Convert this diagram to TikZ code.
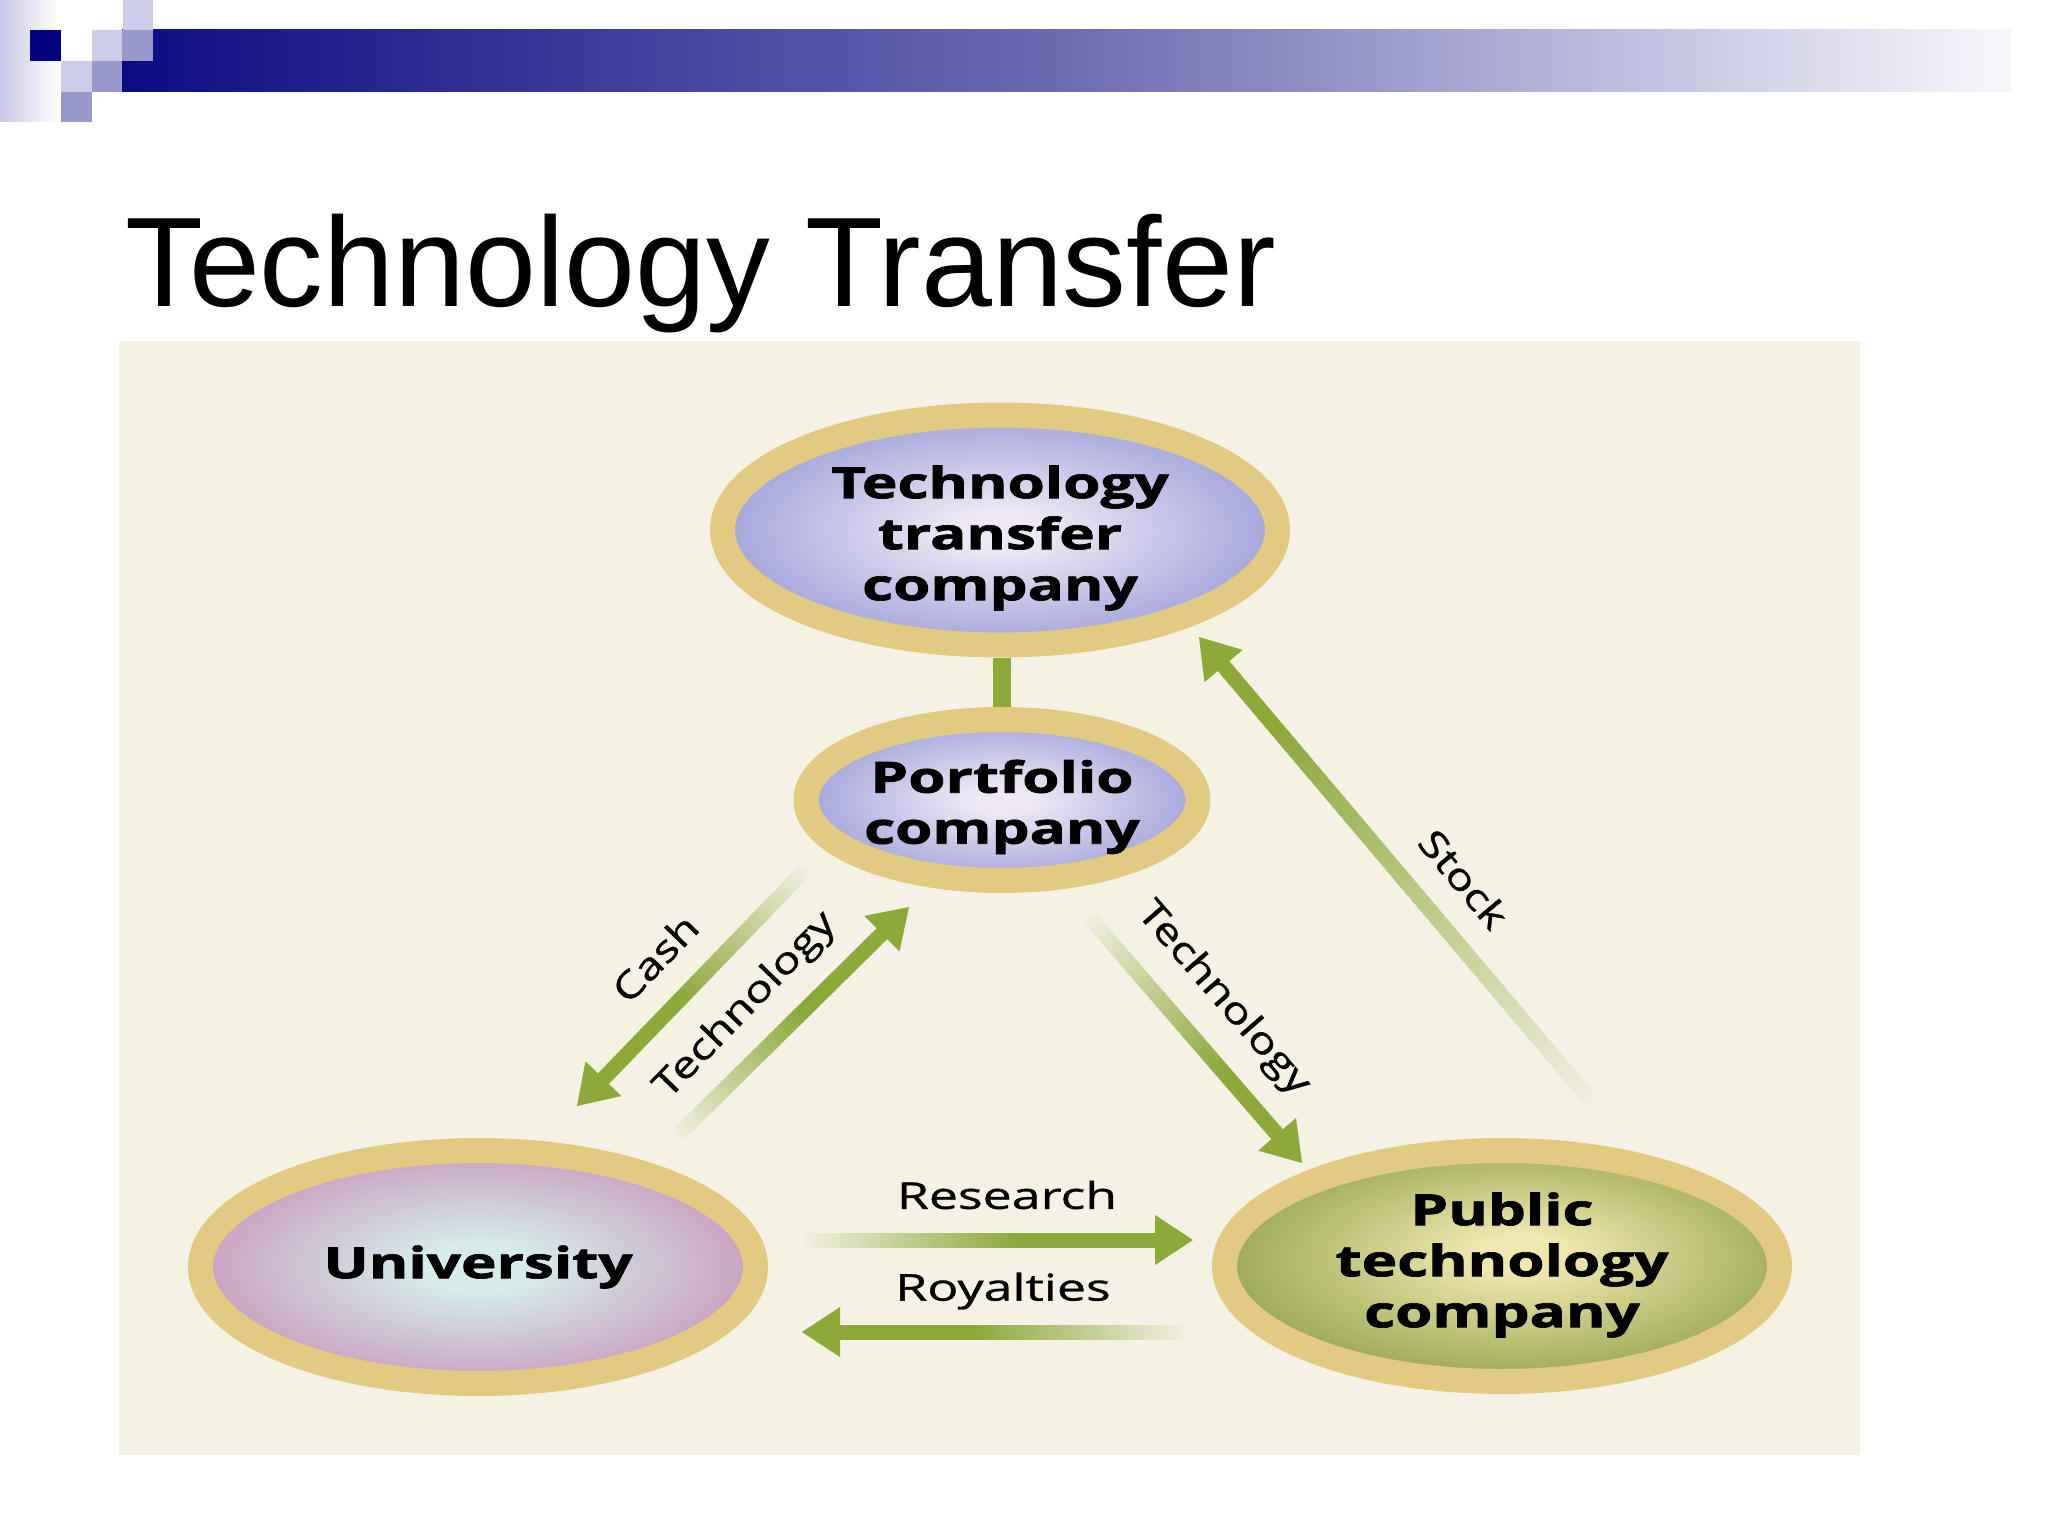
\documentclass[tikz,border=0pt]{standalone}
\usepackage{fontspec}
\usepackage{graphicx}
\setmainfont{Liberation Sans}
\newfontfamily\diag[BoldFeatures={FakeBold=1.5}]{Open Sans}
\newfontfamily\diaglbl[FakeBold=0.8]{Open Sans}
\usetikzlibrary{calc,shapes.geometric}
\definecolor{bgcream}{HTML}{F5F2E5}
\definecolor{ringgold}{HTML}{E2CB80}
\definecolor{agreen}{HTML}{8CA93A}
\definecolor{navyA}{HTML}{0C0C84}
\definecolor{barMid}{HTML}{6C6CB2}
\definecolor{barEnd}{HTML}{F8F8FC}
\definecolor{sqLight}{HTML}{CCCCE6}
\definecolor{sqMed}{HTML}{9999CC}
\definecolor{sqDark}{HTML}{000080}
\definecolor{lavL}{HTML}{C6C6E2}
\definecolor{pcenter}{HTML}{EEE8F5}
\definecolor{pedge}{HTML}{A3A6DA}
\definecolor{ucenter}{HTML}{D6ECEA}
\definecolor{uedge}{HTML}{C8A2C1}
\definecolor{gcenter}{HTML}{F0E8AE}
\definecolor{gedge}{HTML}{A0AC58}
\pgfdeclareradialshading{purpleshade}{\pgfpoint{0bp}{0bp}}{color(0bp)=(pcenter); color(4bp)=(pcenter); color(25bp)=(pedge); color(50bp)=(pedge)}
\pgfdeclareradialshading{unishade}{\pgfpoint{0bp}{0bp}}{color(0bp)=(ucenter); color(5bp)=(ucenter); color(25bp)=(uedge); color(50bp)=(uedge)}
\pgfdeclareradialshading{pubshade}{\pgfpoint{2bp}{3bp}}{color(0bp)=(gcenter); color(4bp)=(gcenter); color(25bp)=(gedge); color(50bp)=(gedge)}
\newcommand{\gradarrow}[3]{%
  \coordinate (#1hb) at ($(#2)!38pt!(#1)$);
  \foreach \i in {0,...,59}{%
    \pgfmathsetmacro{\ta}{\i/60}%
    \pgfmathsetmacro{\tb}{(\i+1.6)/60}%
    \pgfmathsetmacro{\pc}{min(100,5+95*\ta/#3)}%
    \draw[shaft, draw=agreen!\pc!bgcream] ($(#1)!\ta!(#1hb)$) -- ($(#1)!\tb!(#1hb)$);
  }%
  \fill[agreen] (#2) -- ($(#1hb)!25pt!90:(#2)$) -- ($(#1hb)!25pt!-90:(#2)$) -- cycle;
}
\tikzset{
  ring/.style={ellipse, draw=ringgold, line width=25pt, inner sep=0pt, outer sep=12.5pt, shade},
  etext/.style={font=\diag\bfseries\fontsize{43}{51}\selectfont, text=black, inner sep=0pt},
  lbl/.style={font=\diaglbl\fontsize{37}{44}\selectfont, inner sep=0pt, text=black},
  shaft/.style={line width=15pt, line cap=butt},
  barline/.style={draw=agreen, line width=18pt},
}
\newcommand{\wide}[2]{\scalebox{#1}[1]{\begin{tabular}{@{}c@{}}#2\end{tabular}}}
\begin{document}
\begin{tikzpicture}[x=1pt,y=-1pt]
\useasboundingbox (0,0) rectangle (2048,1536);
\fill[white] (0,0) rectangle (2048,1536);
% header decoration
\shade[left color=lavL, right color=white] (0,0) rectangle (58,122);
\shade[left color=navyA, right color=barEnd, middle color=barMid] (122,30) rectangle (2011,92);
\fill[sqLight] (123,0) rectangle (153,30);
\fill[sqDark] (30,30) rectangle (61,61);
\fill[sqLight] (92,30) rectangle (122,61);
\fill[sqMed] (122,30) rectangle (153,61);
\fill[sqLight] (61,61) rectangle (92,92);
\fill[sqMed] (92,61) rectangle (122,92);
\fill[sqMed] (61,92) rectangle (92,122);
% title
\node[anchor=base west, inner sep=0pt, font=\fontsize{127.5}{150}\selectfont] (title) at (125,306) {Technology Transfer};
% diagram background
\fill[bgcream] (119,341) rectangle (1860,1455);
% ellipses
\node[ring, shading=purpleshade, minimum width=555pt, minimum height=230pt] (ttc) at (1000,530) {};
\node[ring, shading=purpleshade, minimum width=392pt, minimum height=161pt] (port) at (1002,800) {};
\node[ring, shading=unishade, minimum width=555pt, minimum height=233pt] (uni) at (478,1267) {};
\node[ring, shading=pubshade, minimum width=555pt, minimum height=231pt] (pub) at (1502,1266) {};
\node[etext] (ttcText) at ([yshift=-9pt]ttc.center) {\wide{1.4}{Technology\\transfer\\company}};
\node[etext] (portText) at ([yshift=-8pt]port.center) {\wide{1.4}{Portfolio\\company}};
\node[etext] (uniText) at ([yshift=-1pt]uni.center) {\wide{1.4}{University}};
\node[etext] (pubText) at (pub.center) {\wide{1.4}{Public\\technology\\company}};
\draw[barline] (port.north) -- (port.north |- ttc.south);
% arrow end points
\coordinate (cashT) at (805,870);
\coordinate (cashH) at (577,1106);
\coordinate (techLT) at (678,1135);
\coordinate (techLH) at (909,907);
\coordinate (techRT) at (1090,918);
\coordinate (techRH) at (1302,1163);
\coordinate (stockT) at (1592,1102);
\coordinate (stockH) at (1199,637);
\coordinate (resT) at (805,1240);
\coordinate (resH) at (1193,1240);
\coordinate (royT) at (1185,1332);
\coordinate (royH) at (802,1332);
\gradarrow{cashT}{cashH}{0.6}
\gradarrow{techLT}{techLH}{0.6}
\gradarrow{techRT}{techRH}{0.7}
\gradarrow{stockT}{stockH}{0.85}
\gradarrow{resT}{resH}{0.6}
\gradarrow{royT}{royH}{0.6}
% labels
\node[lbl, rotate=46] (lcash) at (655,958) {\scalebox{1.25}[1]{Cash}};
\node[lbl, rotate=46] (ltechL) at (746,1006) {\scalebox{1.25}[1]{Technology}};
\node[lbl, rotate=-49] (ltechR) at (1223,999) {\scalebox{1.25}[1]{Technology}};
\node[lbl, rotate=-50] (lstock) at (1464,879) {\scalebox{1.25}[1]{Stock}};
\node[lbl] (lres) at (1007,1195) {\scalebox{1.4}[1]{Research}};
\node[lbl] (lroy) at (1003,1291) {\scalebox{1.4}[1]{Royalties}};
\end{tikzpicture}
\end{document}
